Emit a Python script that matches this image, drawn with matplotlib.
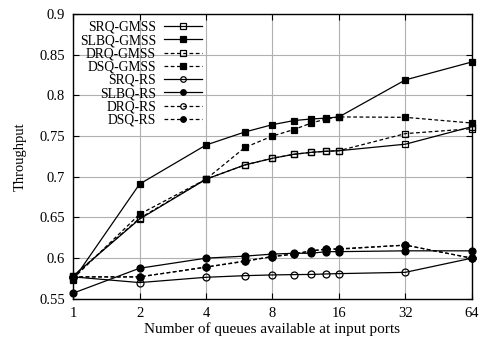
import numpy as np
import matplotlib
matplotlib.use("Agg")
import matplotlib.pyplot as plt
from matplotlib.ticker import FixedLocator, FixedFormatter, NullLocator

plt.rcParams['font.family'] = ['Liberation Serif', 'DejaVu Serif']
plt.rcParams['font.size'] = 10.5

queues = [1, 2, 4, 6, 8, 10, 12, 14, 16, 32, 64]

srq_gmss = [0.578, 0.648, 0.697, 0.7145, 0.7227, 0.7276, 0.730, 0.7313, 0.732, 0.740, 0.7615]
slbq_gmss = [0.573, 0.691, 0.739, 0.755, 0.764, 0.769, 0.771, 0.772, 0.7735, 0.819, 0.841]
drq_gmss = [0.578, 0.649, 0.697, 0.7145, 0.7227, 0.7276, 0.730, 0.7313, 0.732, 0.753, 0.759]
dsq_gmss = [0.575, 0.654, 0.697, 0.736, 0.750, 0.758, 0.766, 0.771, 0.7735, 0.773, 0.766]
srq_rs = [0.577, 0.570, 0.5765, 0.5785, 0.5794, 0.5798, 0.580, 0.5806, 0.581, 0.5826, 0.600]
slbq_rs = [0.557, 0.5876, 0.600, 0.6025, 0.605, 0.606, 0.606, 0.608, 0.608, 0.609, 0.609]
drq_rs = [0.577, 0.577, 0.589, 0.5960, 0.602, 0.605, 0.609, 0.611, 0.611, 0.616, 0.600]
dsq_rs = [0.577, 0.577, 0.589, 0.5966, 0.602, 0.605, 0.609, 0.611, 0.6115, 0.616, 0.600]

xticks = [1, 2, 4, 8, 16, 32, 64]
yticks = [0.55, 0.6, 0.65, 0.7, 0.75, 0.8, 0.85, 0.9]

series = [
    ("SRQ-GMSS", srq_gmss, 's', 'none', '-'),
    ("SLBQ-GMSS", slbq_gmss, 's', 'black', '-'),
    ("DRQ-GMSS", drq_gmss, 's', 'none', (0, (3, 2))),
    ("DSQ-GMSS", dsq_gmss, 's', 'black', (0, (3, 2))),
    ("SRQ-RS", srq_rs, 'o', 'none', '-'),
    ("SLBQ-RS", slbq_rs, 'o', 'black', '-'),
    ("DRQ-RS", drq_rs, 'o', 'none', (0, (3, 2))),
    ("DSQ-RS", dsq_rs, 'o', 'black', (0, (3, 2))),
]

fig = plt.figure(figsize=(4.81, 3.4), dpi=100)
ax = fig.add_axes((0.152, 0.121, 0.829, 0.838))

for name, vals, mk, fc, ls in series:
    ax.plot(queues, vals, color='black', lw=0.9, ls=ls, marker=mk,
            markerfacecolor=fc, markeredgecolor='black', markeredgewidth=0.9,
            markersize=5, label=name, clip_on=False)

ax.set_xscale('log', base=2)
ax.set_xlim(1, 64)
ax.set_ylim(0.55, 0.9)
ax.xaxis.set_major_locator(FixedLocator(xticks))
ax.xaxis.set_major_formatter(FixedFormatter([str(v) for v in xticks]))
ax.xaxis.set_minor_locator(NullLocator())
ax.set_yticks(yticks)
ax.set_yticklabels(['%g' % v for v in yticks])

ax.grid(True, color='#b0b0b0', lw=0.8)
ax.set_axisbelow(True)
ax.tick_params(direction='in', top=True, right=True, length=4, width=0.8)
ax.tick_params(axis='y', pad=6)
ax.tick_params(axis='x', pad=6)
for sp in ax.spines.values():
    sp.set_linewidth(1.0)

ax.set_xlabel("Number of queues available at input ports", fontsize=11, labelpad=1.5)
ax.set_ylabel("Throughput", labelpad=9)

leg = ax.legend(loc='upper left', frameon=False, markerfirst=False,
                handlelength=2.8, handletextpad=0.6, labelspacing=0.02,
                borderaxespad=0.35, borderpad=0.15, fontsize=9.8, markerscale=0.8,
                bbox_to_anchor=(0.0, 1.0))
for t in leg.get_texts():
    t.set_ha('right')
leg._legend_box.align = 'right'

fig.savefig("out.png", dpi=100)
